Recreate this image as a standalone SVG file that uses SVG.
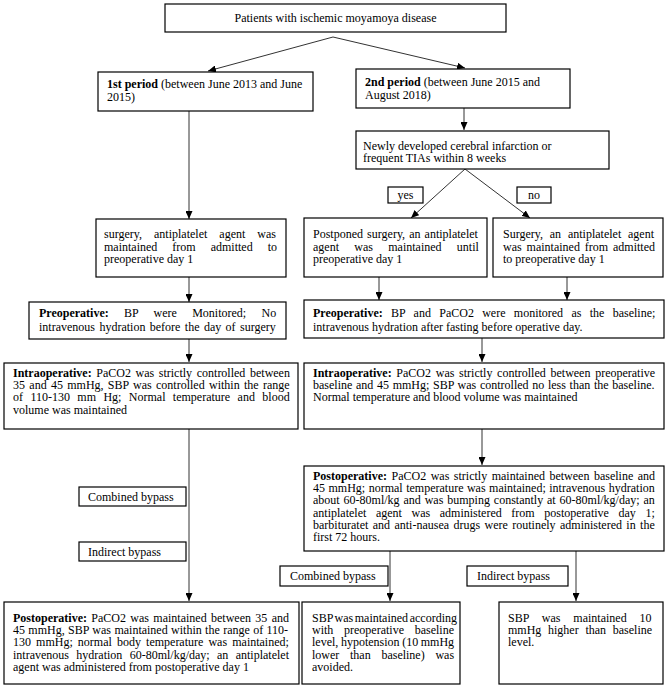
<svg xmlns="http://www.w3.org/2000/svg" width="669" height="688" viewBox="0 0 669 688">
<style>
.box{fill:#fff;stroke:#000;stroke-width:1.2}
.t{font-family:"Liberation Serif","Times New Roman",serif;font-size:12px;fill:#000}
.b{font-weight:bold}
.c{stroke:#333;stroke-width:1;fill:none}
</style>
<defs>
<marker id="ah" markerUnits="userSpaceOnUse" markerWidth="8" markerHeight="7" refX="8" refY="3.5" orient="auto">
<path d="M0,0 L8,3.5 L0,7 z" fill="#000"/>
</marker>
</defs>
<rect width="669" height="688" fill="#fff"/>
<g id="connectors">
<line class="c" x1="333" y1="37" x2="208" y2="71" marker-end="url(#ah)"/>
<line class="c" x1="333" y1="37" x2="465" y2="68" marker-end="url(#ah)"/>
<line class="c" x1="464" y1="108" x2="464" y2="130" marker-end="url(#ah)"/>
<line class="c" x1="189" y1="111" x2="189" y2="219" marker-end="url(#ah)"/>
<line class="c" x1="465" y1="169" x2="411" y2="218" marker-end="url(#ah)"/>
<line class="c" x1="465" y1="169" x2="530" y2="218" marker-end="url(#ah)"/>
<line class="c" x1="379" y1="277" x2="379" y2="300" marker-end="url(#ah)"/>
<line class="c" x1="567" y1="277" x2="567" y2="300" marker-end="url(#ah)"/>
<line class="c" x1="189" y1="277" x2="189" y2="302" marker-end="url(#ah)"/>
<line class="c" x1="189" y1="339" x2="189" y2="362" marker-end="url(#ah)"/>
<line class="c" x1="482" y1="338" x2="482" y2="362" marker-end="url(#ah)"/>
<line class="c" x1="189" y1="429" x2="189" y2="601" marker-end="url(#ah)"/>
<line class="c" x1="482" y1="429" x2="482" y2="465" marker-end="url(#ah)"/>
<line class="c" x1="390" y1="551" x2="390" y2="601" marker-end="url(#ah)"/>
<line class="c" x1="576" y1="551" x2="576" y2="601" marker-end="url(#ah)"/>
</g>
<g id="n-top">
<rect class="box" x="165" y="4" width="341" height="28"/>
<text class="t" x="335.5" y="22" text-anchor="middle">Patients with ischemic moyamoya disease</text>
</g>
<g id="n-period1">
<rect class="box" x="98" y="72" width="215" height="39"/>
<text class="t" x="107" y="88"><tspan class="b">1st period</tspan> (between June 2013 and June</text>
<text class="t" x="107" y="101">2015)</text>
</g>
<g id="n-period2">
<rect class="box" x="356" y="69" width="214" height="39"/>
<text class="t" x="365" y="86"><tspan class="b">2nd period</tspan> (between June 2015 and</text>
<text class="t" x="365" y="99">August 2018)</text>
</g>
<g id="n-newly">
<rect class="box" x="356" y="131" width="253" height="38"/>
<text class="t" x="363" y="150">Newly developed cerebral infarction or</text>
<text class="t" x="363" y="162">frequent TIAs within 8 weeks</text>
</g>
<g id="l-yes">
<rect class="box" x="388" y="187" width="35" height="16"/>
<text class="t" x="405.5" y="199" text-anchor="middle">yes</text>
</g>
<g id="l-no">
<rect class="box" x="517" y="187" width="34" height="16"/>
<text class="t" x="534" y="199" text-anchor="middle">no</text>
</g>
<g id="n-surgery-left">
<rect class="box" x="96" y="219" width="190" height="58"/>
<text class="t" x="104" y="238" style="word-spacing:9px">surgery, antiplatelet agent was</text>
<text class="t" x="104" y="250.5" style="word-spacing:12px">maintained from admitted to</text>
<text class="t" x="104" y="263">preoperative day 1</text>
</g>
<g id="n-postponed">
<rect class="box" x="304" y="218" width="183" height="59"/>
<text class="t" x="313" y="238" style="word-spacing:1.1px">Postponed surgery, an antiplatelet</text>
<text class="t" x="313" y="250.5" style="word-spacing:12.3px">agent was maintained until</text>
<text class="t" x="313" y="263">preoperative day 1</text>
</g>
<g id="n-surgery-right">
<rect class="box" x="493" y="218" width="170" height="59"/>
<text class="t" x="503" y="238" style="word-spacing:3.8px">Surgery, an antiplatelet agent</text>
<text class="t" x="503" y="250.5" style="word-spacing:1.9px">was maintained from admitted</text>
<text class="t" x="503" y="263">to preoperative day 1</text>
</g>
<g id="n-preop-left">
<rect class="box" x="29" y="302" width="257" height="37"/>
<text class="t" x="39" y="317" style="word-spacing:12.3px"><tspan class="b">Preoperative:</tspan> BP were Monitored; No</text>
<text class="t" x="39" y="330.5" style="word-spacing:1.4px">intravenous hydration before the day of surgery</text>
</g>
<g id="n-preop-right">
<rect class="box" x="304" y="300" width="360" height="38"/>
<text class="t" x="313" y="317" style="word-spacing:5.3px"><tspan class="b">Preoperative:</tspan> BP and PaCO2 were monitored as the baseline;</text>
<text class="t" x="313" y="330.5">intravenous hydration after fasting before operative day.</text>
</g>
<g id="n-intraop-left">
<rect class="box" x="4" y="363" width="294" height="66"/>
<text class="t" x="13" y="377" style="word-spacing:1.6px"><tspan class="b">Intraoperative:</tspan> PaCO2 was strictly controlled between</text>
<text class="t" x="13" y="389.2" style="word-spacing:1.3px">35 and 45 mmHg, SBP was controlled within the range</text>
<text class="t" x="13" y="401.4" style="word-spacing:4.4px">of 110-130 mm Hg; Normal temperature and blood</text>
<text class="t" x="13" y="413.6">volume was maintained</text>
</g>
<g id="n-intraop-right">
<rect class="box" x="304" y="363" width="360" height="66"/>
<text class="t" x="313" y="377" style="word-spacing:1.7px"><tspan class="b">Intraoperative:</tspan> PaCO2 was strictly controlled between preoperative</text>
<text class="t" x="313" y="389.2" style="word-spacing:0.67px">baseline and 45 mmHg; SBP was controlled no less than the baseline.</text>
<text class="t" x="313" y="401.4">Normal temperature and blood volume was maintained</text>
</g>
<g id="n-postop-right">
<rect class="box" x="304" y="466" width="360" height="85"/>
<text class="t" x="313" y="480" style="word-spacing:1.5px"><tspan class="b">Postoperative:</tspan> PaCO2 was strictly maintained between baseline and</text>
<text class="t" x="313" y="492.2" style="word-spacing:0.5px">45 mmHg; normal temperature was maintained; intravenous hydration</text>
<text class="t" x="313" y="504.4" style="word-spacing:0.9px">about 60-80ml/kg and was bumping constantly at 60-80ml/kg/day; an</text>
<text class="t" x="313" y="516.6" style="word-spacing:6.6px">antiplatelet agent was administered from postoperative day 1;</text>
<text class="t" x="313" y="528.8" style="word-spacing:1.4px">barbituratet and anti-nausea drugs were routinely administered in the</text>
<text class="t" x="313" y="541">first 72 hours.</text>
</g>
<g id="l-combined-left">
<rect class="box" x="79" y="487" width="107" height="19"/>
<text class="t" x="88" y="500.5">Combined bypass</text>
</g>
<g id="l-indirect-left">
<rect class="box" x="79" y="542" width="107" height="19"/>
<text class="t" x="88" y="555.5">Indirect bypass</text>
</g>
<g id="l-combined-right">
<rect class="box" x="280" y="566" width="108" height="20"/>
<text class="t" x="290" y="580">Combined bypass</text>
</g>
<g id="l-indirect-right">
<rect class="box" x="467" y="566" width="101" height="20"/>
<text class="t" x="477" y="580">Indirect bypass</text>
</g>
<g id="n-postop-left">
<rect class="box" x="4" y="602" width="295" height="82"/>
<text class="t" x="13" y="622" style="word-spacing:1.35px"><tspan class="b">Postoperative:</tspan> PaCO2 was maintained between 35 and</text>
<text class="t" x="13" y="634.2" style="word-spacing:0.37px">45 mmHg, SBP was maintained within the range of 110-</text>
<text class="t" x="13" y="646.4" style="word-spacing:2.1px">130 mmHg; normal body temperature was maintained;</text>
<text class="t" x="13" y="658.6" style="word-spacing:4.35px">intravenous hydration 60-80ml/kg/day; an antiplatelet</text>
<text class="t" x="13" y="670.8">agent was administered from postoperative day 1</text>
</g>
<g id="n-combined-result">
<rect class="box" x="302" y="602" width="158" height="82"/>
<text class="t" x="312" y="622" style="word-spacing:-1.4px">SBP was maintained according</text>
<text class="t" x="312" y="634.2" style="word-spacing:7.7px">with preoperative baseline</text>
<text class="t" x="312" y="646.4" style="word-spacing:-0.4px">level, hypotension (10 mmHg</text>
<text class="t" x="312" y="658.6" style="word-spacing:7.7px">lower than baseline) was</text>
<text class="t" x="312" y="670.8">avoided.</text>
</g>
<g id="n-indirect-result">
<rect class="box" x="499" y="602" width="164" height="82"/>
<text class="t" x="508" y="622" style="word-spacing:9.9px">SBP was maintained 10</text>
<text class="t" x="508" y="634.2" style="word-spacing:3.7px">mmHg higher than baseline</text>
<text class="t" x="508" y="646.4">level.</text>
</g>
</svg>
